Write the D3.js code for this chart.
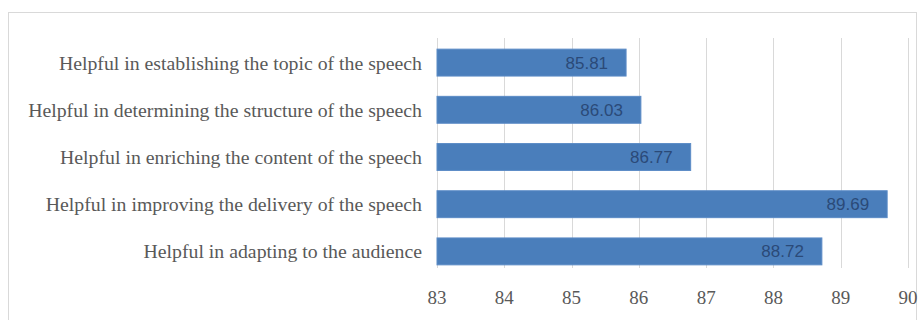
<!DOCTYPE html>
<html>
<head>
<meta charset="utf-8">
<script src="https://cdn.jsdelivr.net/npm/d3@7"></script>
<style>
  body { margin: 0; background: #fff; }
</style>
</head>
<body>
<div id="chart"></div>
<script>
const categories = [
  "Helpful in establishing the topic of the speech",
  "Helpful in determining the structure of the speech",
  "Helpful in enriching the content of the speech",
  "Helpful in improving the delivery of the speech",
  "Helpful in adapting to the audience"
];
const scores = [85.81, 86.03, 86.77, 89.69, 88.72];
const xTicks = [83, 84, 85, 86, 87, 88, 89, 90];

const W = 924, H = 320;
const svg = d3.select("#chart").append("svg")
  .attr("width", W)
  .attr("height", H);

// chart frame
svg.append("rect")
  .attr("x", 8.5).attr("y", 12.5)
  .attr("width", 908).attr("height", 320)
  .attr("fill", "none")
  .attr("stroke", "#d9d9d9");

const x = d3.scaleLinear()
  .domain([83, 90])
  .range([437, 908]);

const y = d3.scaleBand()
  .domain(categories)
  .range([39, 275])
  .paddingInner(0.43)
  .paddingOuter(0.215);

// vertical gridlines
svg.append("g")
  .selectAll("line")
  .data(xTicks)
  .enter().append("line")
  .attr("x1", d => Math.round(x(d)) + 0.5)
  .attr("x2", d => Math.round(x(d)) + 0.5)
  .attr("y1", 38)
  .attr("y2", 268)
  .attr("stroke", "#d9d9d9")
  .attr("stroke-width", 1);

// x tick labels
svg.append("g")
  .selectAll("text")
  .data(xTicks)
  .enter().append("text")
  .attr("x", d => x(d))
  .attr("y", 304)
  .attr("text-anchor", "middle")
  .attr("font-family", "'Liberation Serif', 'Times New Roman', serif")
  .attr("font-size", 19)
  .attr("fill", "#595959")
  .text(d => d);

// bars
svg.append("g")
  .selectAll("rect")
  .data(scores)
  .enter().append("rect")
  .attr("x", x(83))
  .attr("y", (d, i) => y(categories[i]))
  .attr("width", d => x(d) - x(83))
  .attr("height", y.bandwidth())
  .attr("fill", "#4a7ebb")
  .attr("stroke", "#5b8bc6")
  .attr("stroke-width", 1);

// value labels
svg.append("g")
  .selectAll("text")
  .data(scores)
  .enter().append("text")
  .attr("x", d => x(d) - 18)
  .attr("y", (d, i) => y(categories[i]) + y.bandwidth() / 2)
  .attr("dy", "0.35em")
  .attr("text-anchor", "end")
  .attr("font-family", "'Liberation Sans Narrow', 'Liberation Sans', sans-serif")
  .attr("font-size", 17)
  .attr("fill", "#2b4a78")
  .text(d => d.toFixed(2));

// category labels
svg.append("g")
  .selectAll("text")
  .data(categories)
  .enter().append("text")
  .attr("x", 422)
  .attr("y", d => y(d) + y.bandwidth() / 2)
  .attr("dy", "0.35em")
  .attr("text-anchor", "end")
  .attr("font-family", "'Liberation Serif', 'Times New Roman', serif")
  .attr("font-size", 19.8)
  .attr("fill", "#595959")
  .text(d => d);
</script>
</body>
</html>
